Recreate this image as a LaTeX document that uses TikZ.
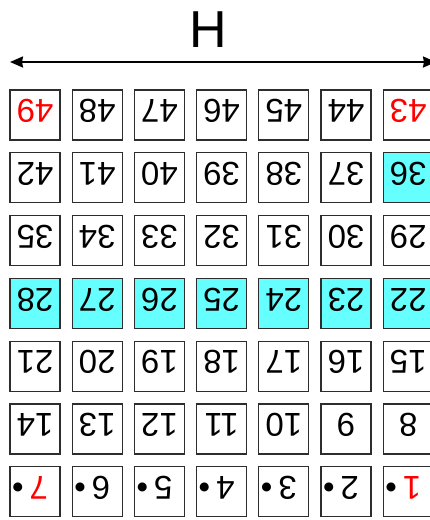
\documentclass[tikz,border=0pt]{standalone}
\usepackage{fontspec}
\setmainfont{Liberation Sans}
\usetikzlibrary{arrows.meta}
\definecolor{cellcyan}{RGB}{102,255,255}
\definecolor{cellline}{RGB}{45,45,45}
\tikzset{
  cell/.style={draw=cellline, line width=1.3pt, minimum size=50pt, inner sep=0pt,
    rotate=180, text height=30.6pt, text depth=0pt,
    font=\fontsize{33}{33}\selectfont},
  span/.style={line width=2pt, {Stealth[length=13pt,width=11pt,inset=1pt]}-{Stealth[length=13pt,width=11pt,inset=1pt]}}
}
\newcommand{\celldot}{\textcolor{black}{\textbullet}}
\begin{document}
\begin{tikzpicture}[x=1pt,y=-1pt]
\useasboundingbox (0,0) rectangle (429,520);
% width label
\node[anchor=base, font=\fontsize{52}{52}\selectfont, inner sep=0pt] (title) at (208,47) {H};
\coordinate (hleft) at (10,62);
\coordinate (hright) at (436,62);
\draw[span] (hleft) -- (hright);
% 7x7 grid, numbered from the top left
\foreach \r in {0,...,6}{
  \foreach \c in {0,...,6}{
    \pgfmathtruncatemacro{\n}{49-7*\r-\c}
    \pgfmathtruncatemacro{\isred}{and(or(\r==0,\r==6),or(\c==0,\c==6))}
    \pgfmathtruncatemacro{\iscyan}{or(\r==3,\n==36)}
    \ifnum\iscyan=1 \def\cellfill{cellcyan}\else \def\cellfill{white}\fi
    \ifnum\isred=1 \def\numcol{red}\else \def\numcol{black}\fi
    \def\celltext{\n}
    \ifnum\r=6 \def\celltext{\hspace{10pt}\n\hspace{6pt}\celldot}\fi
    \ifnum\r=5 \ifnum\c>4 \def\celltext{\n\hspace{8pt}}\fi\fi
    \node[cell, fill=\cellfill, text=\numcol] (cell\n) at ({35+62.2*\c},{115+62.8*\r}) {\celltext};
  }
}
\end{tikzpicture}
\end{document}
